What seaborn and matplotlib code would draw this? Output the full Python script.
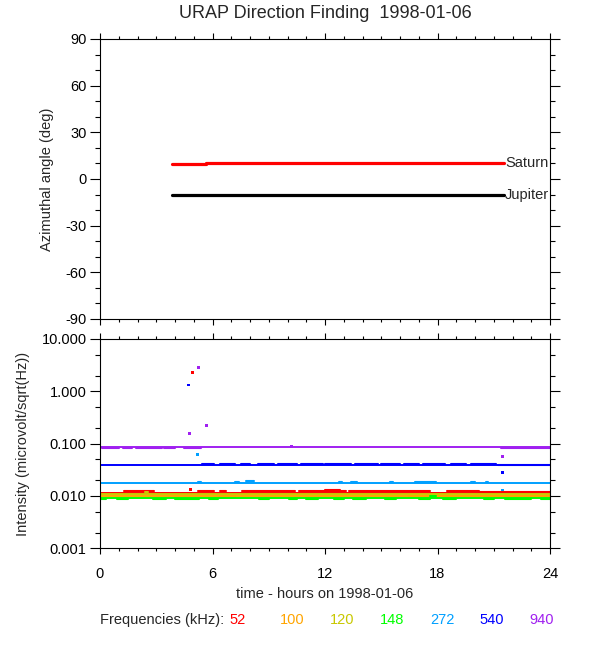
import matplotlib
matplotlib.use('Agg')
import matplotlib.pyplot as plt
import numpy as np
import pandas as pd
import seaborn as sns
from matplotlib.ticker import MultipleLocator, LogLocator, NullFormatter, FixedLocator, FixedFormatter

# ---------------- data ----------------
# top panel: azimuth of Saturn and Jupiter (deg) vs hours
saturn_t = [3.84, 5.65, 21.55]
saturn_az = [9.5, 10.3, 10.3]
jupiter_t = [3.84, 21.55]
jupiter_az = [-10.0, -10.0]

# bottom panel: intensity per frequency (microvolt/sqrt(Hz))
freq_khz = [52, 100, 120, 148, 272, 540, 940]
freq_colors = ['#ff0000', '#ffa500', '#c8c800', '#00ff00', '#00a0ff', '#0000ff', '#a020f0']
base_t = [0.0, 24.0]
base_level = [0.0115, 0.0099, 0.0108, 0.0093, 0.0180, 0.0398, 0.0855]

# short segments where a channel sits slightly off its base level: (start h, end h, level)
bands_52 = [(1.3, 2.9, 0.0122), (5.2, 6.1, 0.0122), (6.4, 6.7, 0.0122), (7.55, 10.4, 0.0122),
            (10.6, 13.1, 0.0122), (12.0, 12.8, 0.0128), (13.3, 17.6, 0.0122),
            (18.5, 20.2, 0.0127), (20.2, 24.0, 0.0121)]
bands_100 = [(6.4, 7.2, 0.0100), (16.5, 24.0, 0.0098)]
bands_120 = [(2.4, 2.55, 0.0118)]
bands_148 = [(0.0, 0.3, 0.0089), (0.9, 1.5, 0.0089), (2.8, 3.5, 0.0089), (4.0, 5.3, 0.0089),
             (5.8, 6.3, 0.0089), (8.5, 9.0, 0.0089), (10.1, 10.5, 0.0089), (11.0, 11.6, 0.0089),
             (12.5, 13.0, 0.0089), (13.5, 14.2, 0.0089), (15.2, 15.8, 0.0089), (17.0, 17.6, 0.0089),
             (17.6, 17.9, 0.0098), (18.3, 19.0, 0.0089), (20.5, 21.0, 0.0089), (21.6, 23.0, 0.0089),
             (23.5, 24.0, 0.0089)]
bands_272 = [(5.25, 5.4, 0.0186), (7.2, 7.4, 0.0186), (7.8, 8.2, 0.0190), (12.75, 12.9, 0.0188),
             (13.4, 13.7, 0.0188), (15.45, 15.6, 0.0187), (16.8, 17.9, 0.0189),
             (19.8, 20.0, 0.0187), (20.6, 20.7, 0.0187)]
bands_540 = [(5.45, 6.1, 0.0415), (6.4, 7.2, 0.0415), (7.5, 8.0, 0.0415), (8.4, 9.3, 0.0415),
             (9.5, 10.5, 0.0415), (10.7, 11.9, 0.0415), (12.0, 13.4, 0.0415), (13.6, 14.8, 0.0415),
             (15.0, 16.0, 0.0415), (16.2, 17.0, 0.0415), (17.2, 18.4, 0.0415), (18.7, 19.5, 0.0415),
             (19.8, 21.1, 0.0415), (21.2, 24.0, 0.0388)]
bands_940 = [(0.1, 1.0, 0.0825), (1.2, 1.7, 0.0825), (1.9, 3.3, 0.0825), (3.4, 4.0, 0.0825),
             (4.5, 5.4, 0.0825), (21.4, 24.0, 0.0825)]
bands = [bands_52, bands_100, bands_120, bands_148, bands_272, bands_540, bands_940]

# isolated samples (burst / dropouts)
outlier_freq = [540, 52, 940, 940, 940, 272, 52, 272, 540, 940, 940]
outlier_t = [4.70, 4.94, 5.23, 4.78, 5.70, 5.22, 4.85, 21.47, 21.47, 21.47, 10.2]
outlier_val = [1.32, 2.30, 2.80, 0.158, 0.22, 0.061, 0.0133, 0.0128, 0.0285, 0.0577, 0.090]

# axis text
az_ticks = [90, 60, 30, 0, -30, -60, -90]
az_ticklabels = ['90', '60', '30', '0', '-30', '-60', '-90']
int_ticks = [10.0, 1.0, 0.1, 0.01, 0.001]
int_ticklabels = ['10.000', '1.000', '0.100', '0.010', '0.001']
hour_ticks = [0, 6, 12, 18, 24]

# ---------------- figure ----------------
sns.set_style('ticks')
plt.rcParams['font.family'] = ['Liberation Sans', 'DejaVu Sans']
plt.rcParams['axes.edgecolor'] = 'black'
plt.rcParams['axes.linewidth'] = 0.8

FS = 10.5

fig = plt.figure(figsize=(6, 6.5), dpi=100)
ax1 = fig.add_axes([100 / 600, 1 - 319 / 650, 450 / 600, 280 / 650])
ax2 = fig.add_axes([100 / 600, 1 - 548.3 / 650, 450 / 600, 209.3 / 650])

# top panel
sns.lineplot(x=saturn_t, y=saturn_az, ax=ax1, color='#ff0000', lw=2.3,
             estimator=None, sort=False, drawstyle='steps-post', legend=False)
sns.lineplot(x=jupiter_t, y=jupiter_az, ax=ax1, color='black', lw=2.3,
             estimator=None, sort=False, legend=False)
ax1.text(saturn_t[-1] + 0.05, saturn_az[-1], 'Saturn', va='center', ha='left', fontsize=FS)
ax1.text(jupiter_t[-1] + 0.05, jupiter_az[-1], 'Jupiter', va='center', ha='left', fontsize=FS)

# bottom panel
for f, col, lev, bl in zip(freq_khz, freq_colors, base_level, bands):
    sns.lineplot(x=base_t, y=[lev, lev], ax=ax2, color=col, lw=1.4,
                 estimator=None, sort=False, legend=False)
    rows = []
    for i, (t0, t1, v) in enumerate(bl):
        rows.append({'t': t0, 'v': v, 'seg': i})
        rows.append({'t': t1, 'v': v, 'seg': i})
    df = pd.DataFrame(rows)
    sns.lineplot(data=df, x='t', y='v', units='seg', ax=ax2, color=col, lw=1.5,
                 estimator=None, sort=False, legend=False)

odf = pd.DataFrame({'freq': outlier_freq, 't': outlier_t, 'v': outlier_val})
pal = dict(zip(freq_khz, freq_colors))
sns.scatterplot(data=odf, x='t', y='v', hue='freq', palette=pal, ax=ax2, marker='s',
                s=4.5, linewidth=0, legend=False)

# axes styling
for ax in (ax1, ax2):
    ax.set_xlim(0, 24)
    ax.xaxis.set_major_locator(FixedLocator(hour_ticks))
    ax.xaxis.set_minor_locator(MultipleLocator(1))
    ax.tick_params(which='both', direction='out', top=True, right=True,
                   color='black', width=0.8, labelsize=FS, labelcolor='black')
    ax.tick_params(axis='x', which='major', length=4.3, pad=9.5)
    ax.tick_params(axis='x', which='minor', length=2.2)
    ax.tick_params(axis='y', which='major', length=7.2, pad=2.5)
    ax.tick_params(axis='y', which='minor', length=3.6)
    for sp in ax.spines.values():
        sp.set_color('black')
        sp.set_linewidth(0.8)
    ax.set_facecolor('white')

ax1.set_ylim(-90, 90)
ax1.yaxis.set_major_locator(FixedLocator(az_ticks))
ax1.yaxis.set_major_formatter(FixedFormatter(az_ticklabels))
ax1.yaxis.set_minor_locator(MultipleLocator(10))
ax1.tick_params(axis='x', labelbottom=False)
ax1.set_xlabel('')
ax1.set_ylabel('Azimuthal angle (deg)', fontsize=FS)
ax1.yaxis.set_label_coords(-0.102, 0.5)

ax2.set_yscale('log')
ax2.set_ylim(0.001, 10)
ax2.yaxis.set_major_locator(FixedLocator(int_ticks))
ax2.yaxis.set_major_formatter(FixedFormatter(int_ticklabels))
ax2.yaxis.set_minor_locator(LogLocator(base=10, subs=[2.0, 5.0]))
ax2.yaxis.set_minor_formatter(NullFormatter())
ax2.set_xticks(hour_ticks)
ax2.set_xticklabels([str(h) for h in hour_ticks])
ax2.set_xlabel('time - hours on 1998-01-06', fontsize=FS, labelpad=4)
ax2.set_ylabel('Intensity (microvolt/sqrt(Hz))', fontsize=FS)
ax2.yaxis.set_label_coords(-0.155, 0.5)

fig.text(325 / 600, 1 - 14 / 650, 'URAP Direction Finding  1998-01-06',
         ha='center', va='center', fontsize=13)

fig.text(100 / 600, 1 - 620 / 650, 'Frequencies (kHz):', ha='left', va='center', fontsize=FS)
label_x = [238, 292, 342, 392, 442, 492, 542]
for f, col, xpx in zip(freq_khz, freq_colors, label_x):
    fig.text(xpx / 600, 1 - 620 / 650, str(f), ha='center', va='center', fontsize=FS, color=col)

fig.savefig('out.png', dpi=100, facecolor='white')
